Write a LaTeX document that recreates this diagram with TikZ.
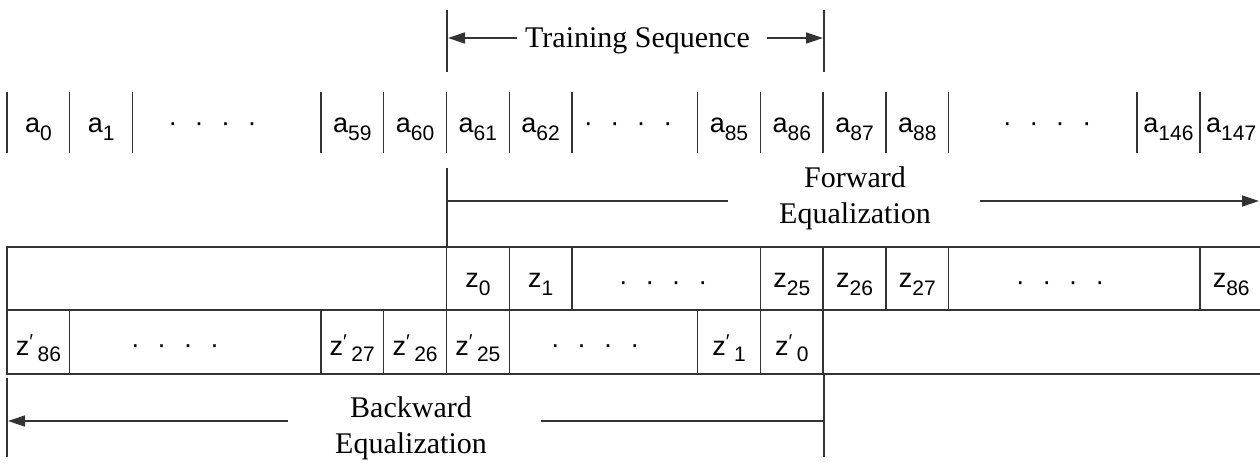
\documentclass[tikz,border=0pt]{standalone}
\usepackage{fontspec}
\setmainfont{Liberation Serif}
\newfontfamily\labfont{Liberation Sans}
\usetikzlibrary{arrows.meta}
\newcommand\sublab[2]{{\labfont\fontsize{27}{27}\selectfont #1\raisebox{-8pt}{\fontsize{21}{21}\selectfont #2}}}
\newcommand\primelab[1]{{\labfont\fontsize{27}{27}\selectfont z\raisebox{7pt}{\fontsize{20}{20}\selectfont ′}\,\raisebox{-6pt}{\fontsize{21}{21}\selectfont #1}}}
\newcommand\onedot{\makebox[26.5pt]{·}}
\tikzset{
  ln/.style={line width=1.4pt, draw=black!80},
  arr/.style={ln, -{Triangle[length=17pt,width=11pt]}},
  lab/.style={anchor=base, inner sep=0pt},
  dotrow/.style={anchor=base, inner sep=0pt, font=\labfont\fontsize{27}{27}\selectfont},
  big/.style={inner sep=0pt, font=\fontsize{30}{36}\selectfont, align=center}
}
\begin{document}
\begin{tikzpicture}[x=1pt,y=-1pt]
\def\u{62.78}
\useasboundingbox (0,0) rectangle (1260,464);
% training sequence
\draw[ln] (447,10) -- (447,72);
\draw[ln] (824,10) -- (824,72);
\node[big, anchor=base] (ts) at (637.5,47) {Training Sequence};
\coordinate (tsa) at (517,38); \coordinate (tsb) at (448,38);
\coordinate (tsc) at (767,38); \coordinate (tsd) at (823,38);
\draw[arr] (tsa) -- (tsb);
\draw[arr] (tsc) -- (tsd);
% a row
\foreach \k in {0,1,2,5,6,7,8,9,11,12,13,14,15,18,19}
  \draw[ln] ({7+\k*\u},92) -- ({7+\k*\u},153);
\foreach \k/\t in {0/0,1/1,5/59,6/60,7/61,8/62,11/85,12/86,13/87,14/88,18/146,19/147}
  \node[lab] (a\t) at ({7+(\k+0.5)*\u},132) {\sublab{a}{\t}};
\node[dotrow] (ad1) at (212.5,131.5) {\onedot\onedot\onedot\onedot};
\node[dotrow] (ad2) at (628,131.5) {\onedot\onedot\onedot\onedot};
\node[dotrow] (ad3) at (1047,131.5) {\onedot\onedot\onedot\onedot};
% forward
\draw[ln] (447,168) -- (447,247);
\node[big, anchor=base] (fw) at (855,223) {Forward\\Equalization};
\coordinate (fa) at (447,201); \coordinate (fb) at (728,201);
\coordinate (fc) at (980,201); \coordinate (fd) at (1259,201);
\draw[ln] (fa) -- (fb);
\draw[arr] (fc) -- (fd);
% table
\draw[ln] (1260,247) -- (7,247) -- (7,374) -- (1260,374);
\draw[ln] (7,310) -- (1260,310);
\foreach \k in {7,8,9,12,13,14,15,19}
  \draw[ln] ({7+\k*\u},247) -- ({7+\k*\u},310);
\foreach \k/\t in {7/0,8/1,12/25,13/26,14/27,19/86}
  \node[lab] (z\t) at ({7+(\k+0.5)*\u},287) {\sublab{z}{\t}};
\node[dotrow] (zd1) at (663,290.5) {\onedot\onedot\onedot\onedot};
\node[dotrow] (zd2) at (1060,290.5) {\onedot\onedot\onedot\onedot};
\foreach \k in {0,1,5,6,7,8,11,12,13}
  \draw[ln] ({7+\k*\u},310) -- ({7+\k*\u},374);
\foreach \k/\t in {0/86,5/27,6/26,7/25,11/1,12/0}
  \node[lab] (zp\t) at ({7+(\k+0.5)*\u},355) {\primelab{\t}};
\node[dotrow] (zpd1) at (175,353.5) {\onedot\onedot\onedot\onedot};
\node[dotrow] (zpd2) at (595,353.5) {\onedot\onedot\onedot\onedot};
% backward
\draw[ln] (7,378) -- (7,457);
\draw[ln] (824,374) -- (824,457);
\node[big, anchor=base] (bw) at (411,453) {Backward\\Equalization};
\coordinate (ba) at (288,421); \coordinate (bb) at (8,421);
\coordinate (bc) at (541,421); \coordinate (bd) at (824,421);
\draw[arr] (ba) -- (bb);
\draw[ln] (bc) -- (bd);
\end{tikzpicture}
\end{document}
